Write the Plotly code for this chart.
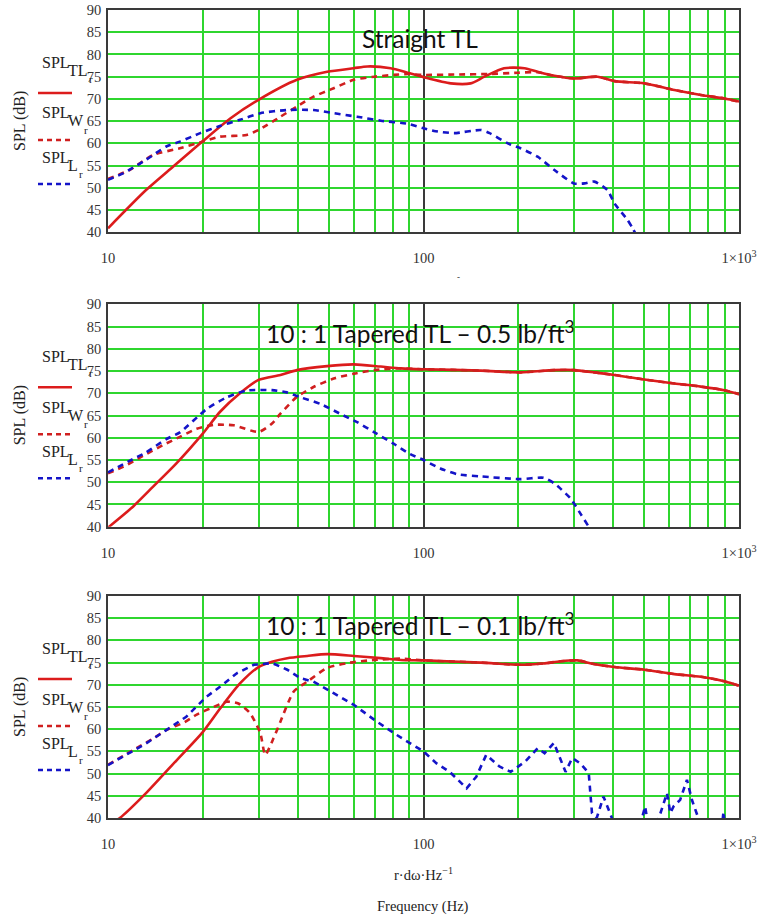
import plotly.graph_objects as go

# ---------------- data ----------------
# Panel 1: Straight TL
f_tl_1 = [10, 13.2, 16.1, 19.9, 24.4, 30, 39.7, 49.5, 60.1, 66.4, 78.7, 89, 100, 122, 141, 156, 180, 209, 230, 260, 300, 356, 403, 501, 624, 757, 898, 1000]
spl_tl_1 = [40.9, 49.5, 54.8, 60.4, 65.6, 69.8, 74.3, 76.1, 76.9, 77.3, 76.9, 75.9, 74.9, 73.5, 73.5, 75.0, 76.9, 76.9, 76.1, 75.2, 74.6, 75.0, 74.0, 73.5, 72.0, 70.9, 70.1, 69.4]
f_w_1 = [10, 11.7, 13.9, 16.9, 20, 22.6, 27.5, 30, 35.2, 39.7, 44.8, 51.9, 60.1, 69.9, 80.6, 89, 100, 130, 160, 200, 230, 260, 300, 356, 403, 501, 624, 757, 898, 1000]
spl_w_1 = [52.0, 54.0, 57.4, 58.9, 60.4, 61.5, 61.9, 63.0, 66.0, 68.3, 70.5, 72.4, 74.3, 75.0, 75.4, 75.6, 75.4, 75.5, 75.6, 75.9, 76.0, 75.2, 74.6, 75.0, 74.0, 73.5, 72.0, 70.9, 70.1, 69.4]
f_l_1 = [10, 11.2, 13.2, 15.3, 16.9, 19.6, 22.6, 26.2, 30.4, 36.9, 44.8, 51.9, 61.6, 73.3, 89, 100, 108, 125, 152, 162, 185, 203, 230, 260, 300, 324, 348, 383, 403, 443, 460, 480]
spl_l_1 = [51.8, 53.3, 56.3, 59.3, 60.4, 62.3, 63.9, 65.3, 66.8, 67.5, 67.5, 66.8, 66.0, 65.1, 64.4, 63.4, 62.8, 62.3, 63.0, 62.3, 60.0, 58.9, 57.0, 54.0, 51.0, 51.0, 51.4, 49.5, 46.5, 42.8, 40.9, 38.5]

# Panel 2: 10:1 Tapered TL - 0.5 lb/ft3
f_tl_2 = [10, 12.0, 13.9, 16.5, 20, 22.7, 26.2, 30, 35.2, 39.7, 49.5, 60.1, 73.1, 84.8, 100, 152, 203, 259, 300, 403, 501, 624, 757, 898, 1000]
spl_tl_2 = [39.8, 44.5, 49.0, 54.3, 61.0, 65.9, 70.0, 73.0, 74.1, 75.2, 76.1, 76.5, 76.0, 75.6, 75.4, 75.1, 74.7, 75.2, 75.2, 74.1, 73.1, 72.2, 71.5, 70.7, 69.8]
f_w_2 = [10, 11.2, 12.9, 14.9, 16.9, 19.1, 21.6, 25.0, 30, 33.1, 35.2, 39.7, 44.8, 51.9, 60.1, 69.9, 84.8, 100, 152, 203, 259, 300, 403, 501, 624, 757, 898, 1000]
spl_w_2 = [52.0, 53.5, 55.9, 58.3, 60.2, 62.0, 62.9, 62.8, 61.3, 63.2, 65.4, 69.2, 71.4, 73.3, 74.4, 75.2, 75.6, 75.4, 75.1, 74.7, 75.2, 75.2, 74.1, 73.1, 72.2, 71.5, 70.7, 69.8]
f_l_2 = [10, 11.7, 13.2, 15.3, 16.9, 20.5, 23.8, 27.5, 33.1, 36.9, 40.7, 47.1, 55.8, 61.6, 69.9, 80.6, 90.8, 100, 113, 128, 152, 203, 240, 259, 292, 314, 334, 345]
spl_l_2 = [52.2, 54.8, 56.7, 59.7, 61.2, 66.4, 69.1, 70.6, 70.7, 70.2, 69.1, 67.6, 65.0, 63.5, 61.2, 58.6, 56.3, 55.0, 53.1, 51.8, 51.3, 50.7, 51.0, 49.8, 46.4, 43.0, 40.0, 38.5]

# Panel 3: 10:1 Tapered TL - 0.1 lb/ft3
f_tl_3 = [10, 10.9, 13.2, 16.5, 20, 22.7, 26.2, 30, 33.1, 37.0, 42.8, 49.5, 60.1, 73.1, 84.8, 100, 152, 203, 240, 272, 308, 340, 403, 501, 624, 757, 898, 1000]
spl_tl_3 = [38.5, 40.0, 45.6, 53.0, 59.4, 64.7, 70.3, 74.0, 75.2, 76.0, 76.5, 76.9, 76.5, 76.0, 75.6, 75.5, 75.0, 74.5, 74.8, 75.3, 75.5, 74.8, 74.0, 73.4, 72.4, 71.8, 70.8, 69.8]
f_w_3 = [10, 12.3, 13.9, 15.3, 17.5, 19.1, 21.6, 23.8, 25.9, 28.2, 30.4, 31.5, 33.5, 35.2, 38.8, 42.8, 49.5, 57.4, 69.9, 84.8, 100, 152, 203, 240, 272, 308, 340, 403, 501, 624, 757, 898, 1000]
spl_w_3 = [52.0, 55.7, 57.9, 59.8, 61.6, 63.3, 65.0, 66.2, 65.8, 63.6, 59.1, 54.2, 58.0, 61.7, 68.5, 70.7, 73.8, 74.9, 75.6, 75.9, 75.5, 75.0, 74.5, 74.8, 75.3, 75.5, 74.8, 74.0, 73.4, 72.4, 71.8, 70.8, 69.8]
f_l_3 = [10, 11.7, 13.2, 15.3, 17.7, 20.5, 22.7, 25.6, 29.0, 33.1, 37.0, 40.7, 44.8, 51.9, 60.1, 69.9, 80.6, 90.8, 100, 110, 121, 137, 147, 158, 174, 189, 210, 230, 242, 259, 272, 282, 296, 314, 334, 342, 354, 372, 390, 410, 480, 504, 511, 540, 591, 606, 620, 651, 684, 709, 743, 760, 880, 893, 905]
spl_l_3 = [51.9, 54.6, 56.8, 59.8, 62.8, 67.3, 69.6, 72.6, 74.5, 74.9, 73.4, 71.5, 70.7, 68.1, 65.5, 62.1, 59.1, 56.8, 55.0, 52.3, 50.4, 46.7, 49.3, 54.2, 51.6, 50.4, 52.7, 55.7, 54.6, 56.9, 53.2, 50.4, 53.5, 52.3, 50.1, 41.1, 40.0, 44.8, 41.1, 37.0, 37.0, 42.6, 40.0, 37.0, 45.6, 41.1, 42.6, 44.1, 48.6, 44.1, 40.0, 37.0, 37.0, 41.4, 37.0]

panel_titles = ["Straight TL",
                "10 : 1 Tapered TL \u2013 0.5 lb/ft<sup>3</sup>",
                "10 : 1 Tapered TL \u2013 0.1 lb/ft<sup>3</sup>"]
x_major_vals = [10, 100, 1000]
x_major_text = ["10", "100", "1\u00d710<sup>3</sup>"]
x_minor_vals = [20, 30, 40, 50, 60, 70, 80, 90, 200, 300, 400, 500, 600, 700, 800, 900]
y_tick_vals = [40, 45, 50, 55, 60, 65, 70, 75, 80, 85, 90]

# ---------------- layout geometry (page pixels) ----------------
W, H = 761, 917
X_LEFT, X_RIGHT = 108, 739
PANEL_TOPS = [10, 304.3, 596]
PANEL_BOTTOMS = [232.3, 526.7, 818]

def px(x):
    return x / W

def py(y):
    return 1 - y / H

RED = "#dc1c1c"
RED_D = "#d01f1f"
BLUE = "#1414c8"
GREEN = "#2fd62f"
FRAME = "#3a3a3a"
SERIF = "Liberation Serif"

panels = [
    (f_tl_1, spl_tl_1, f_w_1, spl_w_1, f_l_1, spl_l_1),
    (f_tl_2, spl_tl_2, f_w_2, spl_w_2, f_l_2, spl_l_2),
    (f_tl_3, spl_tl_3, f_w_3, spl_w_3, f_l_3, spl_l_3),
]

fig = go.Figure()
annotations = []
shapes = []

for i, (ftl, stl, fw, sw, fl, sl) in enumerate(panels):
    n = "" if i == 0 else str(i + 1)
    xa, ya = "x" + n, "y" + n
    fig.add_trace(go.Scatter(x=ftl, y=stl, mode="lines", xaxis=xa, yaxis=ya,
                             line=dict(color=RED, width=2.6, shape="spline", smoothing=0.7),
                             showlegend=False))
    fig.add_trace(go.Scatter(x=fw, y=sw, mode="lines", xaxis=xa, yaxis=ya,
                             line=dict(color=RED_D, width=2.6, dash="6px,5px", shape="spline", smoothing=0.6),
                             showlegend=False))
    fig.add_trace(go.Scatter(x=fl, y=sl, mode="lines", xaxis=xa, yaxis=ya,
                             line=dict(color=BLUE, width=2.6, dash="6px,5px",
                                       shape="linear" if i == 2 else "spline", smoothing=0.6),
                             showlegend=False))

    top, bot = PANEL_TOPS[i], PANEL_BOTTOMS[i]
    xaxis = dict(type="log", range=[1, 3], domain=[px(X_LEFT), px(X_RIGHT)],
                 anchor=ya, tickmode="array", tickvals=x_major_vals, ticktext=x_major_text,
                 showgrid=True, gridcolor=FRAME, gridwidth=1.5,
                 minor=dict(tickmode="array", tickvals=x_minor_vals, showgrid=True,
                            gridcolor=GREEN, gridwidth=1.5, ticks=""),
                 showline=True, mirror=True, linecolor=FRAME, linewidth=1.5,
                 ticks="", ticklabelstandoff=12, automargin=False,
                 tickfont=dict(family=SERIF, size=14.5, color="#333333"),
                 zeroline=False, fixedrange=True)
    yaxis = dict(range=[40, 90], domain=[py(bot), py(top)], anchor=xa,
                 tickmode="array", tickvals=y_tick_vals,
                 showgrid=True, gridcolor=GREEN, gridwidth=1.5,
                 showline=True, mirror=True, linecolor=FRAME, linewidth=1.5,
                 ticks="", ticklabelstandoff=2, automargin=False,
                 tickfont=dict(family=SERIF, size=14.5, color="#333333"),
                 zeroline=False, fixedrange=True)
    fig.update_layout(**{"xaxis" + n: xaxis, "yaxis" + n: yaxis})

    # panel title
    annotations.append(dict(text=panel_titles[i], xref="paper", yref="paper",
                            x=px(420), y=py(top + 28), xanchor="center", yanchor="middle",
                            showarrow=False, font=dict(family="Lato", size=24.5, color="#111111")))

    # y label
    annotations.append(dict(text="SPL (dB)", xref="paper", yref="paper", x=px(20), y=py(top + 111),
                            xanchor="center", yanchor="middle", textangle=-90, showarrow=False,
                            font=dict(family=SERIF, size=16, color="#222222")))

    # legend (Mathcad style)
    leg = [("TL", 87, 52, 83, RED, "solid"),
           ("W", 82, 103, 130, RED_D, "dash"),
           ("L", 77, 147, 174, BLUE, "dash")]
    for sub, rx, ty, ly, col, dsh in leg:
        annotations.append(dict(text="SPL", xref="paper", yref="paper", x=px(40), y=py(top + ty),
                                xanchor="left", yanchor="middle", showarrow=False,
                                font=dict(family=SERIF, size=16, color="#222222")))
        annotations.append(dict(text=sub, xref="paper", yref="paper", x=px(66), y=py(top + ty + 8),
                                xanchor="left", yanchor="middle", showarrow=False,
                                font=dict(family=SERIF, size=16, color="#222222")))
        annotations.append(dict(text="r", xref="paper", yref="paper", x=px(rx), y=py(top + ty + 17),
                                xanchor="left", yanchor="middle", showarrow=False,
                                font=dict(family=SERIF, size=11, color="#222222")))
        shapes.append(dict(type="line", xref="paper", yref="paper", x0=px(38), x1=px(72),
                           y0=py(top + ly), y1=py(top + ly),
                           line=dict(color=col, width=2.6, dash="solid" if dsh == "solid" else "5px,4px")))

# bottom labels
annotations.append(dict(text="r\u00b7d\u03c9\u00b7Hz<sup>\u22121</sup>", xref="paper", yref="paper",
                        x=px(423), y=py(874), xanchor="center", yanchor="middle", showarrow=False,
                        font=dict(family=SERIF, size=14.5, color="#222222")))
annotations.append(dict(text="Frequency (Hz)", xref="paper", yref="paper",
                        x=px(423), y=py(906), xanchor="center", yanchor="middle", showarrow=False,
                        font=dict(family=SERIF, size=14.5, color="#222222")))
annotations.append(dict(text="-", xref="paper", yref="paper",
                        x=px(458), y=py(277), xanchor="center", yanchor="middle", showarrow=False,
                        font=dict(family=SERIF, size=9, color="#222222")))

fig.update_layout(width=W, height=H, autosize=False,
                  margin=dict(l=0, r=0, t=0, b=0, autoexpand=False),
                  paper_bgcolor="white", plot_bgcolor="white",
                  annotations=annotations, shapes=shapes, showlegend=False)

fig.write_html("out.html", config={"displayModeBar": False, "responsive": False},
               post_script="document.body.style.margin='0px';document.body.style.overflow='hidden';")
